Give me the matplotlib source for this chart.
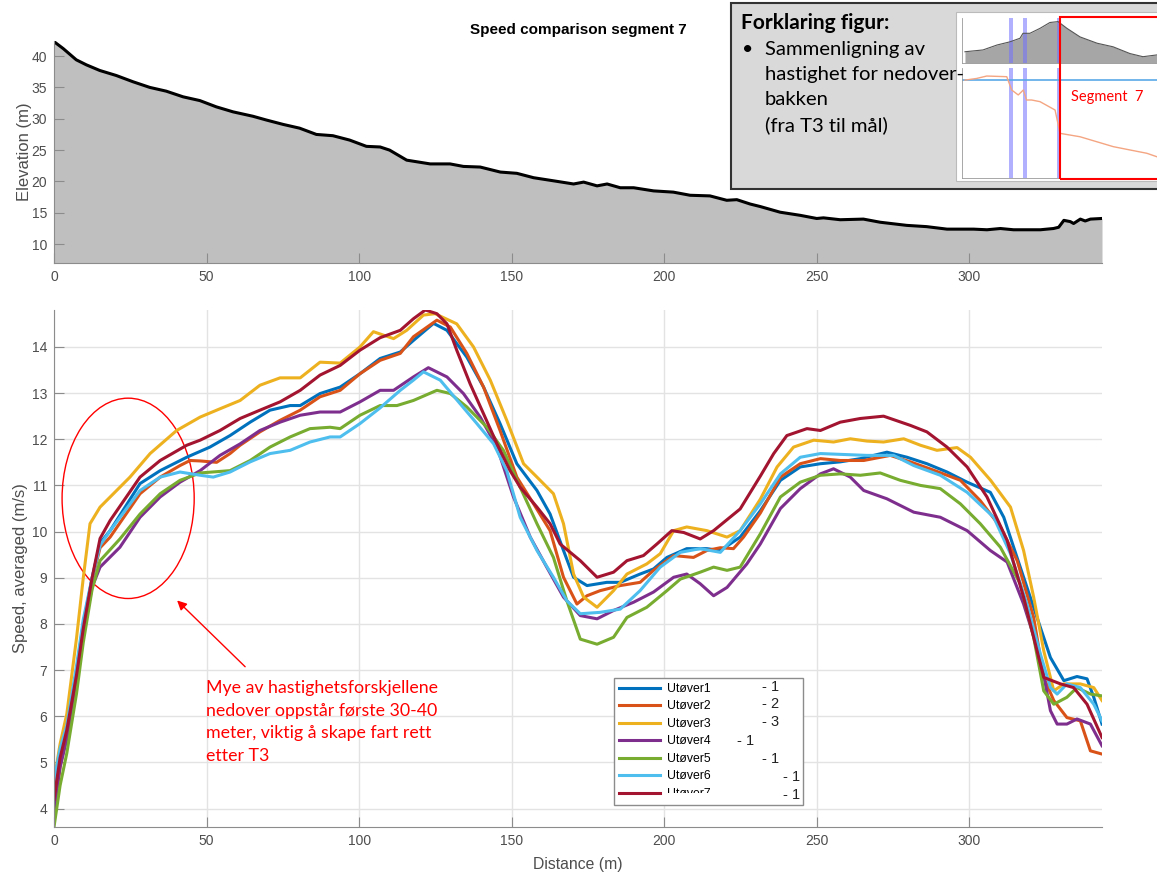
import matplotlib
matplotlib.use("Agg")
import matplotlib.pyplot as plt
from matplotlib.patches import Rectangle, Ellipse
import numpy as np

plt.rcParams['font.family'] = ['Liberation Sans', 'DejaVu Sans']

# elevation profile (distance m, elevation m)
elevation = [(0, 42.3), (3, 41.2), (7.3, 39.4), (10.6, 38.6), (15, 37.7), (20.4, 36.9), (25.9, 35.9),
             (31.4, 35.0), (36.8, 34.4), (42.3, 33.5), (47.8, 32.9), (53.2, 31.9), (58.7, 31.1),
             (65.2, 30.4), (69.6, 29.8), (75.1, 29.1), (80.5, 28.5), (86, 27.5), (91.4, 27.3),
             (96.9, 26.6), (102.4, 25.6), (106.9, 25.5), (110, 25.0), (115.6, 23.4), (123.3, 22.8),
             (129.8, 22.8), (134.2, 22.4), (139.7, 22.3), (146.3, 21.5), (151.7, 21.3), (157.2, 20.6),
             (163.8, 20.1), (170.3, 19.6), (173.6, 19.9), (178, 19.3), (181.3, 19.6), (185.6, 19.0),
             (190, 19.0), (196.5, 18.5), (203, 18.3), (208.5, 17.8), (215, 17.7), (220.5, 17.0),
             (223.8, 17.1), (228.2, 16.4), (231.5, 16.0), (238, 15.1), (244.6, 14.6), (250, 14.1),
             (252.2, 14.2), (257.7, 13.9), (265.3, 14.0), (270.8, 13.5), (279.5, 13.0), (286, 12.8),
             (292.7, 12.4), (301.4, 12.4), (305.8, 12.3), (310.2, 12.5), (314.5, 12.3), (323.3, 12.3),
             (327.6, 12.5), (329.3, 12.7), (331, 13.8), (333.1, 13.6), (334.2, 13.3), (336.4, 14.0),
             (338, 13.7), (339.7, 14.0), (343.5, 14.1)]

# averaged speed per athlete (distance m, speed m/s)
utover1 = [(0, 4.3), (2, 5.1), (4.2, 5.7), (7.4, 7.0), (9.6, 8.0), (12.5, 9.0), (15.1, 9.75), (18.4, 10.02),
           (28.2, 11.04), (34.8, 11.32), (43.5, 11.61), (51.1, 11.83), (57.7, 12.08), (64.3, 12.37),
           (70.8, 12.63), (77.4, 12.73), (80.7, 12.73), (87.2, 12.99), (93.8, 13.13), (100.3, 13.42),
           (106.9, 13.75), (113.5, 13.89), (117.8, 14.14), (124.4, 14.51), (128.8, 14.36), (135.3, 13.78),
           (140.8, 13.13), (146.2, 12.34), (151.7, 11.47), (158.3, 10.89), (162.6, 10.38), (167.0, 9.59),
           (170.3, 9.01), (174.7, 8.83), (181.2, 8.9), (185.6, 8.9), (192.1, 9.08), (196.5, 9.19),
           (200.9, 9.44), (207.4, 9.63), (214.0, 9.63), (218.4, 9.59), (224.9, 9.88), (231.5, 10.45),
           (238.1, 11.11), (244.6, 11.4), (251.2, 11.47), (257.7, 11.51), (264.3, 11.58), (273.0, 11.72),
           (279.6, 11.61), (286.1, 11.47), (292.7, 11.29), (299.3, 11.07), (306.9, 10.85), (311.3, 10.31),
           (316.7, 9.23), (322.2, 8.14), (326.6, 7.27), (331.0, 6.77), (335.3, 6.86), (338.6, 6.81),
           (340.8, 6.41), (343.5, 5.83)]
utover2 = [(0, 3.9), (2, 4.9), (4.2, 5.6), (7.4, 6.9), (9.6, 7.9), (12.5, 8.95), (15.1, 9.65), (18.4, 9.88),
           (28.2, 10.82), (34.8, 11.18), (41.3, 11.43), (44.6, 11.54), (47.9, 11.53), (53.3, 11.5),
           (57.7, 11.69), (61, 11.87), (67.5, 12.16), (74.1, 12.41), (80.7, 12.63), (87.2, 12.92),
           (93.8, 13.06), (100.3, 13.42), (106.9, 13.71), (113.5, 13.86), (117.8, 14.22), (125.5, 14.58),
           (129.9, 14.43), (135.3, 13.86), (140.8, 13.13), (146.2, 12.19), (151.7, 11.18), (157.2, 10.6),
           (162.6, 10.02), (167.0, 9.01), (171.4, 8.43), (174.7, 8.61), (179.0, 8.72), (185.6, 8.83),
           (192.1, 8.9), (196.5, 9.16), (203.1, 9.48), (209.6, 9.44), (214.0, 9.59), (218.4, 9.65),
           (222.7, 9.63), (226.0, 9.88), (231.5, 10.4), (238.1, 11.18), (244.6, 11.47), (251.2, 11.58),
           (257.7, 11.54), (265.4, 11.54), (274.1, 11.65), (280.7, 11.51), (288.3, 11.33), (297.1, 11.11),
           (303.6, 10.67), (310.2, 10.1), (315.7, 9.37), (321.1, 8.14), (324.4, 6.84), (327.7, 6.34),
           (332.0, 5.97), (336.4, 5.9), (339.7, 5.25), (343.5, 5.18)]
utover3 = [(0, 4.6), (2, 5.4), (4.2, 6.05), (7.4, 7.7), (9.6, 9.0), (11.8, 10.17), (15.1, 10.53),
           (24.9, 11.18), (31.5, 11.69), (40.2, 12.19), (47.9, 12.48), (54.4, 12.66), (61, 12.84),
           (67.5, 13.17), (74.1, 13.33), (80.7, 13.33), (87.2, 13.67), (93.8, 13.65), (100.3, 14.0),
           (104.7, 14.33), (111.3, 14.18), (115.6, 14.36), (121.1, 14.69), (124.9, 14.72), (132.0, 14.5),
           (137.5, 14.0), (143.0, 13.28), (148.4, 12.41), (153.9, 11.47), (158.3, 11.18), (163.7, 10.82),
           (167.0, 10.17), (170.3, 9.08), (173.6, 8.58), (178.0, 8.36), (183.4, 8.72), (187.8, 9.08),
           (194.3, 9.3), (198.7, 9.52), (203.1, 10.02), (207.4, 10.1), (214.0, 10.02), (220.6, 9.88),
           (224.9, 10.02), (231.5, 10.7), (237.0, 11.4), (242.4, 11.83), (249.0, 11.98), (255.5, 11.94),
           (261.0, 12.01), (266.5, 11.96), (271.9, 11.94), (278.5, 12.01), (284.0, 11.87), (289.4, 11.76),
           (296.0, 11.82), (300.4, 11.61), (307.0, 11.11), (313.5, 10.53), (317.8, 9.59), (321.1, 8.58),
           (324.4, 7.42), (327.7, 6.55), (331.0, 6.7), (336.4, 6.7), (340.8, 6.62), (343.5, 6.34)]
utover4 = [(0, 4.0), (2, 4.9), (4.2, 5.5), (7.4, 6.8), (9.6, 7.8), (12.5, 8.8), (15.1, 9.23), (21.6, 9.66),
           (28.2, 10.31), (34.8, 10.75), (41.3, 11.07), (47.9, 11.32), (54.4, 11.65), (61, 11.9),
           (67.5, 12.19), (74.1, 12.37), (80.7, 12.52), (87.2, 12.59), (93.8, 12.59), (100.3, 12.81),
           (106.9, 13.06), (111.3, 13.06), (117.8, 13.35), (122.7, 13.55), (128.8, 13.35), (134.2, 12.99),
           (139.7, 12.48), (145.2, 11.83), (150.6, 10.75), (156.1, 9.88), (161.5, 9.23), (167.0, 8.58),
           (172.5, 8.18), (178.0, 8.11), (183.4, 8.29), (190.0, 8.47), (196.5, 8.69), (203.1, 9.01),
           (207.4, 9.08), (211.8, 8.87), (216.2, 8.61), (220.6, 8.79), (227.1, 9.3), (231.5, 9.73),
           (238.1, 10.5), (244.6, 10.93), (251.2, 11.25), (255.5, 11.36), (261.0, 11.18), (265.4, 10.89),
           (273.0, 10.71), (281.8, 10.42), (290.5, 10.31), (299.3, 10.02), (306.9, 9.59), (312.4, 9.34),
           (317.8, 8.43), (323.3, 7.27), (326.6, 6.12), (328.8, 5.83), (332.0, 5.83), (335.3, 5.94),
           (339.7, 5.83), (343.5, 5.36)]
utover5 = [(0, 3.6), (2, 4.5), (4.2, 5.2), (7.4, 6.5), (9.6, 7.6), (12.5, 8.75), (15.1, 9.37), (21.6, 9.84),
           (28.2, 10.38), (34.8, 10.82), (41.3, 11.11), (47.9, 11.27), (57.7, 11.32), (64.3, 11.54),
           (70.8, 11.83), (77.4, 12.05), (83.9, 12.23), (90.5, 12.26), (93.8, 12.23), (100.3, 12.52),
           (106.9, 12.73), (112.4, 12.73), (117.8, 12.84), (125.5, 13.06), (129.9, 12.99), (135.3, 12.7),
           (141.9, 12.26), (147.3, 11.76), (152.8, 10.96), (158.3, 10.17), (163.7, 9.44), (168.1, 8.5),
           (172.5, 7.67), (178.0, 7.56), (183.4, 7.71), (187.8, 8.14), (194.3, 8.36), (200.9, 8.72),
           (205.3, 8.97), (211.8, 9.12), (216.2, 9.23), (220.6, 9.16), (224.9, 9.23), (231.5, 9.95),
           (238.1, 10.75), (244.6, 11.07), (251.2, 11.22), (257.7, 11.25), (264.3, 11.22), (270.8, 11.27),
           (277.4, 11.11), (284.0, 11.0), (290.5, 10.93), (297.1, 10.6), (303.6, 10.17), (310.2, 9.66),
           (316.7, 8.87), (321.1, 7.71), (324.4, 6.55), (327.7, 6.26), (332.0, 6.41), (335.3, 6.62),
           (339.7, 6.48), (343.5, 6.44)]
utover6 = [(0, 4.6), (2, 5.3), (4.2, 5.8), (7.4, 7.1), (9.6, 8.1), (12.5, 9.0), (15.1, 9.7), (18.4, 10.02),
           (28.2, 10.89), (34.8, 11.18), (41.3, 11.29), (47.9, 11.22), (52.2, 11.18), (57.7, 11.29),
           (64.3, 11.51), (70.8, 11.69), (77.4, 11.76), (83.9, 11.94), (90.5, 12.05), (93.8, 12.05),
           (100.3, 12.34), (106.9, 12.68), (113.5, 13.06), (117.8, 13.28), (121.1, 13.46), (126.6, 13.28),
           (133.1, 12.77), (138.6, 12.34), (144.1, 11.9), (148.4, 11.32), (152.8, 10.31), (158.3, 9.59),
           (163.7, 9.01), (168.1, 8.5), (172.5, 8.22), (179.0, 8.25), (185.6, 8.32), (192.1, 8.72),
           (198.7, 9.23), (205.3, 9.55), (211.8, 9.63), (218.4, 9.55), (224.9, 10.02), (231.5, 10.6),
           (238.1, 11.25), (244.6, 11.61), (251.2, 11.69), (258.8, 11.67), (266.5, 11.65), (275.2, 11.65),
           (281.8, 11.43), (290.5, 11.22), (299.3, 10.85), (308.0, 10.31), (313.5, 9.52), (318.9, 8.43),
           (323.3, 7.35), (326.6, 6.62), (328.8, 6.48), (332.0, 6.7), (336.4, 6.62), (340.8, 6.26),
           (343.5, 5.9)]
utover7 = [(0, 4.2), (2, 5.1), (4.2, 5.7), (7.4, 6.9), (9.6, 7.9), (12.5, 9.0), (15.1, 9.85), (18.4, 10.24),
           (28.2, 11.18), (34.8, 11.54), (43.5, 11.87), (47.9, 11.98), (54.4, 12.19), (61, 12.45),
           (67.5, 12.63), (74.1, 12.81), (80.7, 13.06), (87.2, 13.39), (93.8, 13.6), (100.3, 13.93),
           (106.9, 14.2), (113.5, 14.36), (117.8, 14.61), (121.7, 14.8), (125.5, 14.72), (128.8, 14.5),
           (132.0, 13.93), (136.4, 13.2), (140.8, 12.55), (145.2, 11.9), (149.5, 11.32), (152.8, 10.96),
           (158.3, 10.53), (162.6, 10.17), (165.9, 9.73), (172.5, 9.37), (178.0, 9.01), (183.4, 9.12),
           (187.8, 9.37), (193.2, 9.48), (197.6, 9.73), (202.5, 10.02), (206.4, 9.98), (211.8, 9.84),
           (216.2, 10.02), (224.9, 10.49), (231.5, 11.2), (235.9, 11.69), (240.2, 12.08), (246.8, 12.23),
           (251.2, 12.19), (257.7, 12.37), (264.3, 12.45), (271.9, 12.5), (280.7, 12.3), (286.1, 12.16),
           (292.7, 11.83), (299.3, 11.4), (305.8, 10.75), (312.4, 9.81), (317.8, 8.58), (321.1, 7.71),
           (324.4, 6.84), (329.9, 6.7), (334.2, 6.62), (338.6, 6.26), (343.5, 5.54)]

names = ["Utøver1", "Utøver2", "Utøver3", "Utøver4", "Utøver5", "Utøver6", "Utøver7"]
series = [utover1, utover2, utover3, utover4, utover5, utover6, utover7]
colors = ["#0072BD", "#D95319", "#EDB120", "#7E2F8E", "#77AC30", "#4DBEEE", "#A2142F"]
rank_text = ["- 1", "- 2", "- 3", "- 1", "- 1", "- 1", "- 1"]

# thumbnail of the full course in the explanation box (normalised)
thumb_x = [0.015, 0.106, 0.177, 0.242, 0.293, 0.308, 0.343, 0.394, 0.444, 0.485, 0.53, 0.596, 0.682,
           0.763, 0.848, 0.914, 0.985]
thumb_elev = [0.25, 0.29, 0.4, 0.47, 0.55, 0.66, 0.66, 0.77, 0.9, 0.92, 0.77, 0.58, 0.44, 0.36, 0.21,
              0.14, 0.18]
thumb_sx = [0.015, 0.074, 0.125, 0.226, 0.251, 0.284, 0.31, 0.326, 0.352, 0.394, 0.47, 0.495, 0.596,
            0.68, 0.764, 0.848, 0.933, 0.983]
thumb_speed = [0.89, 0.905, 0.927, 0.921, 0.8, 0.755, 0.8, 0.709, 0.709, 0.694, 0.618, 0.406, 0.375,
               0.33, 0.285, 0.255, 0.225, 0.194]
thumb_marks = [0.247, 0.318, 0.485]

W, H = 1157, 875
fig = plt.figure(figsize=(W / 100, H / 100), dpi=100)


def fx(px):
    return px / W


def fy(py):
    return 1 - py / H


tick_col = "#4d4d4d"
spine_col = "#8c8c8c"

# ---- elevation panel
ax_e = fig.add_axes([fx(54), fy(263), fx(1102) - fx(54), fy(41) - fy(263)])
e = np.array(elevation)
ax_e.fill_between(e[:, 0], e[:, 1], 7, color="#bfbfbf", lw=0)
ax_e.plot(e[:, 0], e[:, 1], color="black", lw=2.2)
ax_e.set_xlim(0, 343.5)
ax_e.set_ylim(7, 42.4)
ax_e.set_xticks(np.arange(0, 301, 50))
ax_e.set_yticks(np.arange(10, 41, 5))
ax_e.set_ylabel("Elevation (m)", fontsize=12, color=tick_col)
ax_e.yaxis.set_label_coords(-0.021, 0.5)

# ---- speed panel
ax = fig.add_axes([fx(54), fy(827), fx(1102) - fx(54), fy(310) - fy(827)])
lines = []
for name, s, c in zip(names, series, colors):
    d = np.array(s)
    ln, = ax.plot(d[:, 0], d[:, 1], color=c, lw=2.2, label=name)
    lines.append(ln)
ax.set_xlim(0, 343.5)
ax.set_ylim(3.6, 14.8)
ax.set_xticks(np.arange(0, 301, 50))
ax.set_yticks(np.arange(4, 15, 1))
ax.grid(True, color="#e3e3e3", lw=1)
ax.set_axisbelow(True)
ax.set_ylabel("Speed, averaged (m/s)", fontsize=12, color=tick_col)
ax.yaxis.set_label_coords(-0.025, 0.5)
ax.set_xlabel("Distance (m)", fontsize=11.3, color=tick_col)
ax.xaxis.set_label_coords(0.5, -0.058)

for a in (ax_e, ax):
    for sp in ("top", "right"):
        a.spines[sp].set_visible(False)
    for sp in ("left", "bottom"):
        a.spines[sp].set_color(spine_col)
    a.tick_params(direction="in", length=7, color=spine_col, labelcolor=tick_col,
                  labelsize=10, pad=5)

fig.text(fx(578), fy(30), "Speed comparison segment 7", ha="center", va="center",
         fontsize=11, fontweight="bold")

# annotation on the start
ax.add_patch(Ellipse((24.3, 10.72), 43.3, 4.34, fill=False, edgecolor="red", lw=1))
ax.annotate("", xy=(39.7, 8.55), xytext=(63.3, 7.03),
            arrowprops=dict(arrowstyle="-|>", color="red", lw=1, mutation_scale=14))
fig.text(fx(206), fy(680), "Mye av hastighetsforskjellene\nnedover oppstår første 30-40\n"
         "meter, viktig å skape fart rett\netter T3", ha="left", va="top", color="red",
         fontsize=12.8, family="Lato", linespacing=1.51)

# legend
leg = ax.legend(handles=lines, loc="upper left",
                bbox_to_anchor=(fx(614), fy(805), fx(803) - fx(614), fy(678) - fy(805)),
                bbox_transform=fig.transFigure, mode="expand", borderaxespad=0,
                fontsize=8.8, handlelength=3.4, handletextpad=0.55, labelspacing=0.45,
                borderpad=0.4, fancybox=False, framealpha=1, edgecolor="#8c8c8c")
leg.get_frame().set_linewidth(1)
rank_pos = [(762, 687), (762, 704), (762, 722), (737, 741), (762, 759), (783, 777), (783, 795)]
for t, (px, py) in zip(rank_text, rank_pos):
    fig.text(fx(px), fy(py), t, fontsize=10.5, color="#222222", va="center", zorder=10)
# last legend label is partly hidden in the original
fig.patches.append(Rectangle((fx(664), fy(801)), fx(740) - fx(664), fy(793) - fy(801),
                             transform=fig.transFigure, facecolor="white", lw=0, zorder=4))

# ---- explanation box
fig.patches.append(Rectangle((fx(731), fy(189)), fx(1160) - fx(731), fy(3) - fy(189),
                             transform=fig.transFigure, facecolor="#d9d9d9",
                             edgecolor="#333333", lw=1.5, zorder=0))
fig.text(fx(741), fy(23), "Forklaring figur:", fontsize=15, fontweight="bold", family="Lato",
         va="center")
fig.text(fx(742), fy(50), "•", fontsize=14, family="Lato", va="center")
fig.text(fx(765), fy(41), "Sammenligning av\nhastighet for nedover-\nbakken\n(fra T3 til mål)",
         fontsize=14.6, family="Lato", va="top", linespacing=1.56)

fig.patches.append(Rectangle((fx(956), fy(181)), fx(1160) - fx(956), fy(12) - fy(181),
                             transform=fig.transFigure, facecolor="white",
                             edgecolor="#bbbbbb", lw=0.8, zorder=1))
t_top = fig.add_axes([fx(962), fy(63), fx(1160) - fx(962), fy(18) - fy(63)])
t_top.fill_between(thumb_x, thumb_elev, 0, color="#a6a6a6", lw=0)
t_top.plot(thumb_x, thumb_elev, color="#555555", lw=0.8)
t_bot = fig.add_axes([fx(962), fy(178), fx(1160) - fx(962), fy(68) - fy(178)])
t_bot.axhline(0.89, color="#5aa9e6", lw=1.2)
t_bot.plot(thumb_sx, thumb_speed, color="#f4a582", lw=1)
for a in (t_top, t_bot):
    a.set_zorder(3)
    a.set_xlim(0, 1)
    a.set_ylim(0, 1)
    a.set_xticks([])
    a.set_yticks([])
    a.patch.set_alpha(0)
    for sp in ("top", "right"):
        a.spines[sp].set_visible(False)
    for sp in ("left", "bottom"):
        a.spines[sp].set_color("#999999")
        a.spines[sp].set_linewidth(0.6)
    for m, w in zip(thumb_marks, [0.02, 0.02, 0.012]):
        a.axvspan(m - w / 2, m + w / 2, color="#7070ff", alpha=0.55, lw=0)
fig.patches.append(Rectangle((fx(1060), fy(179)), fx(1160) - fx(1060), fy(17) - fy(179),
                             transform=fig.transFigure, fill=False, edgecolor="red",
                             lw=1.5, zorder=5))
fig.text(fx(1071), fy(97), "Segment  7", color="red", fontsize=10.5, family="Lato",
         va="center", zorder=6)

fig.savefig("out.png", dpi=100)
